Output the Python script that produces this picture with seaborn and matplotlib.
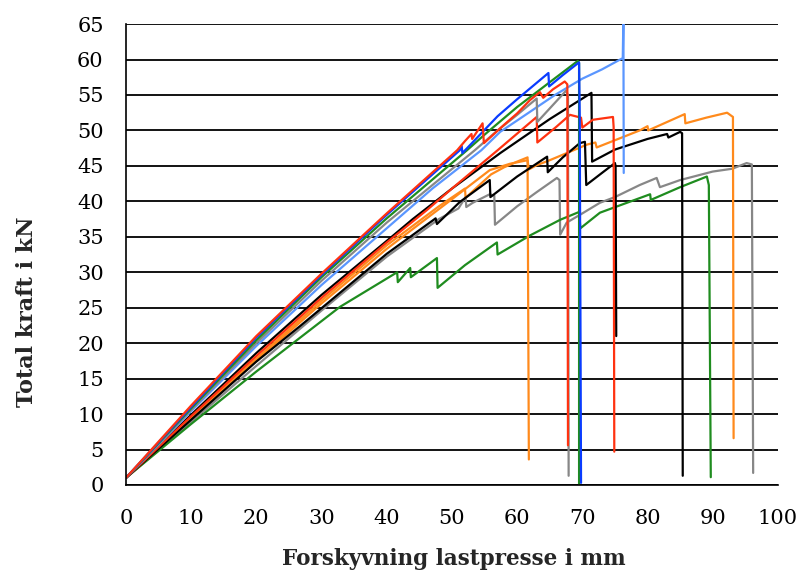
import matplotlib
matplotlib.use("Agg")
import matplotlib.pyplot as plt
import seaborn as sns

# Load-displacement curves (x in mm, y in kN)
red_top_x = [0, 10, 20, 30, 40, 50.8, 52, 53, 53.1, 54.7, 54.9, 58, 60, 62, 63.5, 64, 65.5, 67.3, 67.7, 67.8]
red_top_y = [1, 11.2, 21, 29.8, 38.3, 47.2, 48.5, 49.5, 48.8, 51, 48.2, 50.8, 52.4, 54.3, 55.4, 54.6, 55.8, 56.9, 56.5, 5.6]

blue_x = [0, 10, 20, 30, 40, 51.2, 51.5, 51.6, 57, 60, 64.8, 64.9, 67, 69.5, 69.6, 69.8]
blue_y = [1, 11, 20.8, 29.6, 38.1, 47.2, 47.8, 46.8, 52, 54.4, 58.1, 56.2, 57.8, 59.6, 52, 0.3]

green_top_x = [0, 10, 20, 30, 40, 52.3, 55, 60, 65, 69.3, 69.5, 69.5]
green_top_y = [1, 10.8, 20.4, 29.3, 37.6, 47.2, 49.4, 53.3, 56.8, 59.8, 59.5, 0]

gray_top_x = [0, 10, 20, 30, 40, 53.5, 57, 60, 63, 63.1, 65.5, 67.5, 67.8, 67.9]
gray_top_y = [1, 10.6, 20, 28.8, 37, 47.2, 50, 52.2, 54.5, 51.2, 53.6, 55.6, 55, 1.3]

lightblue_x = [0, 10, 20, 30, 40, 47, 54.5, 57.4, 60, 65.8, 70, 73, 76.2, 76.3, 76.35]
lightblue_y = [1, 10.4, 19.6, 28.2, 36.2, 41.8, 47.2, 49.8, 51.4, 55, 57.3, 58.6, 60.2, 66, 44]

red_mid_x = [0, 10, 20, 30, 40, 46.2, 50, 57, 63, 63.1, 66, 68.1, 69.8, 70, 71.6, 74.7, 74.8, 74.9]
red_mid_y = [1, 9.7, 18.2, 26.4, 34.2, 38.8, 41.8, 47.2, 51.9, 48.3, 50.5, 52.2, 51.8, 50.4, 51.5, 51.9, 50.5, 4.7]

black_top_x = [0, 10, 20, 30, 40.5, 44, 50, 57.4, 65, 71.4, 71.5, 75, 80, 83, 83.2, 85, 85.3, 85.4]
black_top_y = [1, 9.9, 18.6, 26.8, 34.8, 37.5, 41.8, 46.8, 51.6, 55.3, 45.6, 47.3, 48.8, 49.5, 49, 49.8, 49.6, 1.3]

black_low_x = [0, 10, 20, 26.7, 40, 47.5, 47.7, 51.2, 55.8, 55.9, 60, 64.6, 64.7, 67, 69.6, 70.4, 70.6, 73, 75, 75.1, 75.2]
black_low_y = [1, 9.2, 17.4, 22.4, 32.6, 37.6, 36.8, 39.9, 43, 40.6, 43.5, 46.3, 44.1, 46.2, 48.2, 48.4, 42.3, 44, 45.4, 45, 21]

orange_top_x = [0, 10, 20, 30, 40, 50, 55.8, 58.9, 61.6, 61.8, 63, 65, 70.7, 72, 72.2, 78.8, 80, 80.1, 85.7, 85.8, 89, 92.2, 93.1, 93.2]
orange_top_y = [1, 9.3, 17.5, 25.6, 33.3, 40.3, 44.4, 45.3, 45.8, 44.5, 45.1, 45.8, 48, 48.3, 47.6, 50, 50.6, 50, 52.3, 51, 51.8, 52.5, 51.9, 6.6]

orange_low_x = [0, 10, 20, 30, 40, 48, 52, 52.1, 56, 58, 60, 61.6, 61.8]
orange_low_y = [1, 9.5, 17.8, 26, 33.8, 39.3, 41.8, 40.5, 43.8, 44.8, 45.6, 46.2, 3.6]

gray_low_x = [0, 10, 20, 30, 40, 48, 51, 52.1, 52.2, 53.2, 55.8, 56.5, 56.6, 60, 63, 66.1, 66.5, 66.6, 67.6, 70, 72.7, 75, 78.8,
              81.4, 81.9, 85, 90, 93, 95.2, 96, 96.2]
gray_low_y = [1, 8.9, 16.8, 24.6, 32.2, 37.5, 39, 40.6, 39.2, 39.8, 41, 40.8, 36.7, 39.3, 41.3, 43.3, 43, 35.3, 37, 38.3, 39.8, 40.6, 42.3,
              43.3, 42, 43, 44.2, 44.6, 45.4, 45.2, 1.7]

green_low_x = [0, 10, 20, 32.8, 41.6, 41.7, 43.6, 43.7, 47.7, 47.8, 52, 56.9, 57, 62, 66.6, 69.5, 69.7, 72.7, 80.4, 80.5, 85, 89.1,
               89.4, 89.7]
green_low_y = [1, 8.6, 16, 25.1, 30, 28.6, 30.6, 29.3, 32, 27.8, 31, 34.2, 32.5, 35.2, 37.4, 38.5, 36.2, 38.4, 41, 40.2, 42, 43.5,
               42.3, 1.1]

series = [
    (gray_low_x, gray_low_y, "#878787"),
    (green_low_x, green_low_y, "#1f8c1f"),
    (orange_top_x, orange_top_y, "#ff8a1c"),
    (orange_low_x, orange_low_y, "#ff8a1c"),
    (black_low_x, black_low_y, "#000000"),
    (black_top_x, black_top_y, "#000000"),
    (red_mid_x, red_mid_y, "#ff3210"),
    (lightblue_x, lightblue_y, "#5a96ff"),
    (gray_top_x, gray_top_y, "#878787"),
    (green_top_x, green_top_y, "#1f8c1f"),
    (blue_x, blue_y, "#0a3cff"),
    (red_top_x, red_top_y, "#ff3210"),
]

sns.set_style("white")
plt.rcParams['font.family'] = ['DejaVu Serif']

fig, ax = plt.subplots(figsize=(8.02, 5.73), dpi=100)
fig.subplots_adjust(left=0.157, right=0.970, top=0.958, bottom=0.1536)

for xs, ys, c in series:
    sns.lineplot(x=xs, y=ys, sort=False, estimator=None, color=c, linewidth=1.6, ax=ax)

ax.set_xlim(0, 100)
ax.set_ylim(0, 65)
ax.set_xticks(range(0, 101, 10))
ax.set_yticks(range(0, 66, 5))
ax.grid(axis='y', color='black', linewidth=1.3)
ax.set_axisbelow(True)
for s in ['top', 'right']:
    ax.spines[s].set_visible(False)
for s in ['left', 'bottom']:
    ax.spines[s].set_color('black')
    ax.spines[s].set_linewidth(1.2)

ax.tick_params(axis='y', direction='inout', length=8, width=1.2, pad=12, labelsize=15, colors='black')
ax.tick_params(axis='x', direction='out', length=5, width=1.2, pad=12, labelsize=15, colors='black')

ax.set_xlabel('Forskyvning lastpresse i mm', fontsize=15.5, fontweight='bold')
ax.set_ylabel('Total kraft i kN', fontsize=16, fontweight='bold')
ax.xaxis.set_label_coords(0.503, -0.137)
ax.yaxis.set_label_coords(-0.135, 0.375)

fig.savefig('out.png', dpi=100)
